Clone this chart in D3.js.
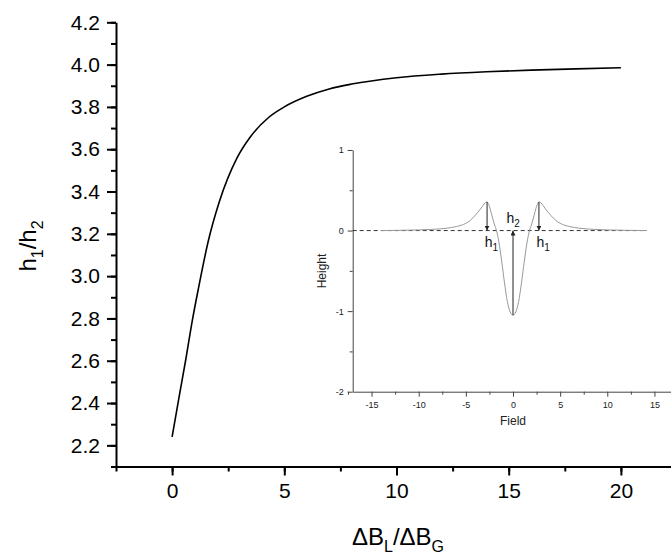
<!DOCTYPE html>
<html>
<head>
<meta charset="utf-8">
<script src="https://cdn.jsdelivr.net/npm/d3@7"></script>
<style>
  body { margin: 0; background: #fff; }
  svg { display: block; font-family: "Liberation Sans", Arial, sans-serif; }
</style>
</head>
<body>
<svg width="671" height="554"></svg>
<script>
// main curve: h1/h2 against dBL/dBG
var ratioX = [0, 0.33, 0.6, 0.9, 1.17, 1.6, 2.1, 2.9, 3.5, 4.3, 5, 6, 7, 8, 10, 12, 14, 16, 18, 20];
var ratioY = [2.24, 2.44, 2.6, 2.79, 2.94, 3.16, 3.35, 3.56, 3.66, 3.75, 3.80, 3.85, 3.885, 3.908, 3.938, 3.955, 3.966, 3.974, 3.98, 3.985];
var mainXTicks = [0, 5, 10, 15, 20];
var mainYTicks = [2.2, 2.4, 2.6, 2.8, 3.0, 3.2, 3.4, 3.6, 3.8, 4.0, 4.2];

// inset: line shape against field
var field = [-14, -12, -10, -8.5, -7, -6, -5, -4.5, -4, -3.5, -3.2, -2.95, -2.75, -2.5, -2.2, -1.95, -1.75, -1.5, -1.2, -0.9, -0.6, -0.3, 0,
             0.3, 0.6, 0.9, 1.2, 1.5, 1.75, 1.95, 2.2, 2.5, 2.75, 2.95, 3.2, 3.5, 4, 4.5, 5, 6, 7, 8.5, 10, 12, 14.2];
var height = [0, 0.003, 0.008, 0.015, 0.03, 0.05, 0.09, 0.13, 0.19, 0.26, 0.31, 0.345, 0.355, 0.3, 0.17, 0.07, 0, -0.14, -0.38, -0.65, -0.88, -1.01, -1.05,
              -1.01, -0.88, -0.65, -0.38, -0.14, 0, 0.07, 0.17, 0.3, 0.355, 0.345, 0.31, 0.26, 0.19, 0.13, 0.09, 0.05, 0.03, 0.015, 0.008, 0.003, 0];
var insetXTicks = [-15, -10, -5, 0, 5, 10, 15];
var insetYTicks = [-2, -1, 0, 1];
var arrowX = [-2.75, 0, 2.75];
var arrowFrom = [0.355, -1.05, 0.355];
var arrowLabels = [{t: 'h', s: '1', x: -3.0, y: -0.2}, {t: 'h', s: '2', x: -0.7, y: 0.1}, {t: 'h', s: '1', x: 2.5, y: -0.2}];

var svg = d3.select('svg');
var plain = function(d){ return String(d); };

var x = d3.scaleLinear().domain([-2.5, 22.5]).range([116, 677]);
var y = d3.scaleLinear().domain([2.1, 4.2]).range([466.5, 22.3]);

// minor ticks
svg.append('g').attr('transform', 'translate(0,466.5)')
  .call(d3.axisBottom(x).tickValues(d3.range(-2.5, 22.6, 2.5)).tickSize(5).tickFormat(''))
  .call(function(g){ g.select('.domain').remove(); g.selectAll('line').attr('stroke-width', 2); });
svg.append('g').attr('transform', 'translate(116,0)')
  .call(d3.axisLeft(y).tickValues(d3.range(2.1, 4.21, 0.1)).tickSize(5).tickFormat(''))
  .call(function(g){ g.select('.domain').remove(); g.selectAll('line').attr('stroke-width', 2); });

var xAxis = svg.append('g').attr('transform', 'translate(0,466.5)')
  .call(d3.axisBottom(x).tickValues(mainXTicks).tickSize(9).tickSizeOuter(0).tickPadding(8).tickFormat(plain));
var yAxis = svg.append('g').attr('transform', 'translate(116,0)')
  .call(d3.axisLeft(y).tickValues(mainYTicks).tickSize(9).tickSizeOuter(0).tickPadding(7).tickFormat(d3.format('.1f')));
[xAxis, yAxis].forEach(function(g){
  g.select('.domain').attr('stroke-width', 2);
  g.selectAll('line').attr('stroke-width', 2);
  g.selectAll('text').attr('font-size', 21).attr('fill', '#000').attr('font-family', '"Liberation Sans", Arial, sans-serif');
});

svg.append('path')
  .attr('d', d3.line().x(function(d, i){ return x(ratioX[i]); }).y(function(d){ return y(d); }).curve(d3.curveMonotoneX)(ratioY))
  .attr('fill', 'none').attr('stroke', '#000').attr('stroke-width', 1.6);

var xt = svg.append('text').attr('x', 398).attr('y', 545).attr('text-anchor', 'middle').attr('font-size', 24);
xt.append('tspan').text('\u0394B');
xt.append('tspan').text('L').attr('font-size', 16).attr('dy', 7);
xt.append('tspan').text('/\u0394B').attr('dy', -7);
xt.append('tspan').text('G').attr('font-size', 16).attr('dy', 7);

var yt = svg.append('text').attr('transform', 'translate(36,246) rotate(-90)').attr('text-anchor', 'middle').attr('font-size', 24);
yt.append('tspan').text('h');
yt.append('tspan').text('1').attr('font-size', 16).attr('dy', 7);
yt.append('tspan').text('/h').attr('dy', -7);
yt.append('tspan').text('2').attr('font-size', 16).attr('dy', 7);

// inset
var ix = d3.scaleLinear().domain([-17, 17]).range([352.7, 673.3]);
var iy = d3.scaleLinear().domain([-2, 1]).range([391.7, 150]);
var inset = svg.append('g');

inset.append('g').attr('transform', 'translate(0,391.7)')
  .call(d3.axisBottom(ix).tickValues(d3.range(-17.5, 17.6, 5)).tickSize(3).tickFormat(''))
  .call(function(g){ g.select('.domain').remove(); });
inset.append('g').attr('transform', 'translate(352.7,0)')
  .call(d3.axisLeft(iy).tickValues([-1.5, -0.5, 0.5]).tickSize(3).tickFormat(''))
  .call(function(g){ g.select('.domain').remove(); });
var ixa = inset.append('g').attr('transform', 'translate(0,391.7)')
  .call(d3.axisBottom(ix).tickValues(insetXTicks).tickSize(5).tickSizeOuter(0).tickPadding(5).tickFormat(plain));
var iya = inset.append('g').attr('transform', 'translate(352.7,0)')
  .call(d3.axisLeft(iy).tickValues(insetYTicks).tickSize(5).tickSizeOuter(0).tickPadding(4).tickFormat(plain));
[ixa, iya].forEach(function(g){
  g.selectAll('text').attr('font-size', 9).attr('fill', '#222').attr('font-family', '"Liberation Sans", Arial, sans-serif');
  g.select('.domain').attr('stroke', '#444');
});
inset.selectAll('.tick line').attr('stroke', '#444');

inset.append('line').attr('x1', ix(-17)).attr('x2', ix(14.2)).attr('y1', iy(0)).attr('y2', iy(0))
  .attr('stroke', '#333').attr('stroke-width', 1).attr('stroke-dasharray', '4,3');

inset.append('path')
  .attr('d', d3.line().x(function(d, i){ return ix(field[i]); }).y(function(d){ return iy(d); }).curve(d3.curveMonotoneX)(height))
  .attr('fill', 'none').attr('stroke', '#999').attr('stroke-width', 1);

svg.append('defs').append('marker').attr('id', 'arr').attr('viewBox', '0 0 6 6')
  .attr('refX', 6).attr('refY', 3).attr('markerWidth', 5).attr('markerHeight', 5).attr('orient', 'auto')
  .append('path').attr('d', 'M0,0L6,3L0,6Z').attr('fill', '#222');

inset.selectAll('.arrow').data(arrowX).enter().append('line')
  .attr('x1', function(d){ return ix(d); }).attr('x2', function(d){ return ix(d); })
  .attr('y1', function(d, i){ return iy(arrowFrom[i]); }).attr('y2', iy(0))
  .attr('stroke', '#222').attr('stroke-width', 1).attr('marker-end', 'url(#arr)');

arrowLabels.forEach(function(l){
  var t = inset.append('text').attr('x', ix(l.x)).attr('y', iy(l.y)).attr('font-size', 14).attr('fill', '#111');
  t.append('tspan').text(l.t);
  t.append('tspan').text(l.s).attr('font-size', 10).attr('dy', 4);
});

inset.append('text').attr('x', ix(0)).attr('y', 425).attr('text-anchor', 'middle').attr('font-size', 12).attr('fill', '#222').text('Field');
inset.append('text').attr('transform', 'translate(326,271) rotate(-90)').attr('text-anchor', 'middle').attr('font-size', 12).attr('fill', '#222').text('Height');
</script>
</body>
</html>
